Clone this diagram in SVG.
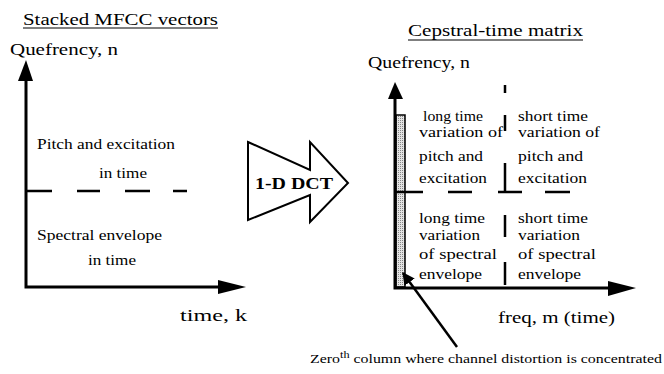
<svg xmlns="http://www.w3.org/2000/svg" width="664" height="374" viewBox="0 0 664 374">
<style>
text{font-family:"Liberation Serif","Times New Roman",serif;fill:#000}
.t{font-size:16px}
.s{font-size:15px}
.b{font-size:13px}
.ax{stroke:#000;stroke-width:3;fill:none}
.dash{stroke:#000;stroke-width:2.5;fill:none}
.ul{stroke:#000;stroke-width:1.2}
</style>
<defs>
<marker id="ah" viewBox="0 0 10 10" refX="9" refY="5" markerWidth="5" markerHeight="5" markerUnits="strokeWidth" orient="auto">
<path d="M0,0 L10,5 L0,10 Z" fill="#000"/>
</marker>
<pattern id="dots" width="2" height="2" patternUnits="userSpaceOnUse">
<rect width="2" height="2" fill="#e4e4e4"/>
<rect width="1" height="1" fill="#888"/>
</pattern>
</defs>
<rect width="664" height="374" fill="#fff"/>

<g id="left-panel">
<text class="t" x="23" y="25" textLength="195" lengthAdjust="spacingAndGlyphs">Stacked MFCC vectors</text>
<line class="ul" x1="23" y1="28" x2="218" y2="28"/>
<text class="t" x="10" y="55" textLength="108" lengthAdjust="spacingAndGlyphs">Quefrency, n</text>
<path class="ax" d="M26,78 V287 H222"/>
<path d="M26,60 L18,81 L33,81 Z" fill="#000"/>
<path d="M246,287 L218,280 L218,294 Z" fill="#000"/>
<text class="s" x="37" y="149" textLength="138" lengthAdjust="spacingAndGlyphs">Pitch and excitation</text>
<text class="s" x="99" y="178" textLength="48" lengthAdjust="spacingAndGlyphs">in time</text>
<path class="dash" d="M27,191 H52 M77,191 H100 M125,191 H150 M173,191 H187"/>
<text class="s" x="37" y="240" textLength="125" lengthAdjust="spacingAndGlyphs">Spectral envelope</text>
<text class="s" x="88" y="265" textLength="48" lengthAdjust="spacingAndGlyphs">in time</text>
<text class="t" x="180" y="321" textLength="67" lengthAdjust="spacingAndGlyphs">time, k</text>
</g>

<g id="dct-arrow">
<path d="M248,142 L310,170 L310,142 L348,183 L310,222 L310,195 L248,220 Z" fill="#fff" stroke="#000" stroke-width="2"/>
<text x="255" y="189" font-size="16" font-weight="bold" textLength="78" lengthAdjust="spacingAndGlyphs">1-D DCT</text>
</g>

<g id="right-panel">
<text class="t" x="408" y="36" textLength="175" lengthAdjust="spacingAndGlyphs">Cepstral-time matrix</text>
<line class="ul" x1="408" y1="40" x2="583" y2="40"/>
<text class="t" x="368" y="68" textLength="102" lengthAdjust="spacingAndGlyphs">Quefrency, n</text>
<rect x="396" y="115" width="9" height="172" fill="url(#dots)" stroke="#000" stroke-width="1.5"/>
<path class="ax" d="M395,96 V288 H610"/>
<path d="M395,82 L388,99 L403,99 Z" fill="#000"/>
<path d="M636,288 L608,281 L608,296 Z" fill="#000"/>
<path class="dash" d="M505,85 V93 M505,115 V131 M505,163 V191 M505,215 V237 M505,262 V285"/>
<path class="dash" d="M396,192 H423 M448,192 H472 M498,192 H522 M545,192 H570"/>
</g>

<g id="cell-long-pitch">
<text class="s" x="423" y="121" textLength="60" lengthAdjust="spacingAndGlyphs">long time</text>
<text class="s" x="419" y="137" textLength="84" lengthAdjust="spacingAndGlyphs">variation of</text>
<text class="s" x="419" y="161" textLength="64" lengthAdjust="spacingAndGlyphs">pitch and</text>
<text class="s" x="419" y="183" textLength="68" lengthAdjust="spacingAndGlyphs">excitation</text>
</g>
<g id="cell-short-pitch">
<text class="s" x="518" y="121" textLength="70" lengthAdjust="spacingAndGlyphs">short time</text>
<text class="s" x="518" y="137" textLength="82" lengthAdjust="spacingAndGlyphs">variation of</text>
<text class="s" x="518" y="161" textLength="65" lengthAdjust="spacingAndGlyphs">pitch and</text>
<text class="s" x="518" y="183" textLength="69" lengthAdjust="spacingAndGlyphs">excitation</text>
</g>
<g id="cell-long-spectral">
<text class="s" x="419" y="223" textLength="66" lengthAdjust="spacingAndGlyphs">long time</text>
<text class="s" x="419" y="240" textLength="61" lengthAdjust="spacingAndGlyphs">variation</text>
<text class="s" x="419" y="259" textLength="78" lengthAdjust="spacingAndGlyphs">of  spectral</text>
<text class="s" x="419" y="279" textLength="63" lengthAdjust="spacingAndGlyphs">envelope</text>
</g>
<g id="cell-short-spectral">
<text class="s" x="518" y="223" textLength="70" lengthAdjust="spacingAndGlyphs">short time</text>
<text class="s" x="518" y="240" textLength="62" lengthAdjust="spacingAndGlyphs">variation</text>
<text class="s" x="518" y="259" textLength="78" lengthAdjust="spacingAndGlyphs">of  spectral</text>
<text class="s" x="518" y="279" textLength="63" lengthAdjust="spacingAndGlyphs">envelope</text>
</g>

<g id="x-label">
<text class="t" x="498" y="323" textLength="117" lengthAdjust="spacingAndGlyphs">freq, m (time)</text>
</g>

<g id="note">
<text class="b" x="310" y="363" textLength="352" lengthAdjust="spacingAndGlyphs">Zero<tspan font-size="10" dy="-5">th</tspan><tspan dy="5"> column where channel distortion is concentrated</tspan></text>
</g>

<g id="connectors">
<line x1="457" y1="347" x2="403" y2="273" stroke="#000" stroke-width="2.5" marker-end="url(#ah)"/>
</g>
</svg>
